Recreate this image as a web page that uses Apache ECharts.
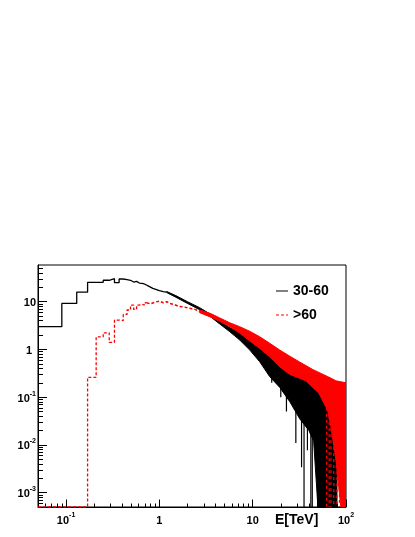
<!DOCTYPE html>
<html><head><meta charset="utf-8">
<script src="https://cdn.jsdelivr.net/npm/echarts@6/dist/echarts.min.js"></script>
<style>html,body{margin:0;padding:0;background:#fff}#c{width:415px;height:537px}</style>
</head><body><div id="c"></div>
<script>
// ---- data ----
const seriesNames = ['30-60', '>60'];
const xTickLabels = [0.1, 1, 10, 100];
const yTickLabels = [0.001, 0.01, 0.1, 1, 10];
// low-energy histogram bin edges (TeV) and contents
const binEdges  = [0.05,0.09,0.13,0.17,0.21,0.25,0.29,0.33,0.37,0.41,0.45,0.49,0.53,0.57,0.61,0.65,0.69,0.73];
const blackBins = [3.0,9.2,15.8,25.5,25.5,28.1,30.3,25.0,29.9,29.0,28.1,25.8,26.7,24.6,24.2,23.5,22.3];
const redBins   = [0,0,0,0.26,1.84,2.23,1.40,4.12,4.0,5.4,6.7,8.5,6.9,8.5,8.9,8.5,9.5];
// mid-energy trace
const blackMidE = [0.73,0.76,0.85,1.0,1.1,1.2];
const blackMidV = [22.3,20.5,19.0,17.0,16.3,15.9];
const redMidE = [0.73,0.8,0.9,1.0,1.1,1.2,1.3,1.45,1.6,1.8,2.1,2.4,2.7];
const redMidV = [9.5,9.0,9.8,10.3,9.5,10.0,9.2,8.7,8.0,7.8,7.3,6.9,6.3];
// high-energy fluctuation envelope (upper / lower)
const blackBandE  = [1.2,1.5,2.0,2.7,3.5,4.4,5.6,7.2,9.3,11.9,15.2,19.5,25,32,40,45,50,75,80];
const blackBandHi = [16.3,13.4,10.0,7.5,5.5,3.95,2.9,2.3,1.84,1.45,1.05,0.70,0.47,0.35,0.25,0.2,0.17,0.12,0.1];
const blackBandLo = [15.5,12.4,9.2,6.8,4.9,3.45,2.4,1.6,0.97,0.55,0.27,0.16,0.08,0.035,0.02,0.012,0,0,0];
const redBandE  = [2.7,3.5,4.4,5.7,7.25,9.3,11.9,15.2,19.5,25,31.6,37.1,44,51.2,63.5,69,78,88,100];
const redBandHi = [6.7,5.7,4.6,3.6,3.0,2.4,1.84,1.35,0.97,0.72,0.55,0.46,0.38,0.33,0.27,0.25,0.22,0.21,0.2];
const redBandLo = [5.9,4.8,3.9,3.0,2.2,1.5,1.05,0.7,0.43,0.3,0.25,0.22,0.16,0.121,0.053,0.024,0.0048,0,0];
// isolated downward spikes
const blackSpikeE   = [16,20,23,29,33.4,35.5,38.6,42,43.5,49.6];
const blackSpikeTop = [0.9,0.6,0.5,0.3,0.25,0.25,0.22,0.2,0.2,0.15];
const blackSpikeBot = [0.2,0.1,0.05,0.011,0.0034,0,0.0077,0,0,0];
const redSpikeE   = [62,66,69,74,80,85];
const redSpikeTop = [0.06,0.04,0.03,0.012,0.005,0.003];
const redSpikeBot = [0,0,0,0,0,0];

// ---- chart ----
const X_MIN = 0.05, X_MAX = 100, Y_MIN = 5e-4, Y_MAX = 58.7;
const floorV = v => (v > 0 ? v : Y_MIN);
const FONT = '"Liberation Sans", Arial, Helvetica, sans-serif';

function minorTicks(lo, hi) {
  const out = [];
  for (let d = -4; d <= 2; d++) {
    const base = Math.pow(10, d);
    for (let k = 2; k <= 9; k++) {
      const v = +(base * k).toPrecision(6);
      if (v > lo && v < hi) out.push(v);
    }
  }
  return out;
}
function fmt(v, isY) {
  const e = Math.round(Math.log10(v));
  if (e === 0) return isY ? '{one|1}' : '{b|1}';
  if (e === 1) return '{b|10}';
  return '{b|10}{sup|' + e + '}';
}
const rich = {
  b: {fontSize: 11, fontWeight: 'bold', fontFamily: FONT, lineHeight: 14, verticalAlign: 'bottom', color: '#000'},
  one: {fontSize: 11, fontWeight: 'bold', fontFamily: FONT, lineHeight: 14, verticalAlign: 'bottom', color: '#000', padding: [0, 4, 0, 0]},
  sup: {fontSize: 7, fontWeight: 'bold', fontFamily: FONT, lineHeight: 8, verticalAlign: 'top', color: '#000'}
};

function stepData(edges, vals) {
  const d = vals.map((v, i) => [edges[i], floorV(v)]);
  d.push([edges[vals.length], floorV(vals[vals.length - 1])]);
  return d;
}
function bandSeries(name, E, hi, lo, color, z) {
  return {
    type: 'custom', name: name, coordinateSystem: 'cartesian2d', clip: true, z: z, silent: true,
    data: E.map((e, i) => [e, floorV(hi[i]), floorV(lo[i])]),
    encode: {x: 0, y: [1, 2]},
    renderItem: function (params, api) {
      if (params.dataIndex !== 0) return null;
      const pts = [];
      for (let i = 0; i < E.length; i++) pts.push(api.coord([E[i], floorV(hi[i])]));
      for (let i = E.length - 1; i >= 0; i--) pts.push(api.coord([E[i], floorV(lo[i])]));
      return {type: 'polygon', shape: {points: pts}, style: {fill: color, stroke: color, lineWidth: 1}};
    }
  };
}
function spikeSeries(name, E, top, bot, color, dash, z) {
  return {
    type: 'custom', name: name, coordinateSystem: 'cartesian2d', clip: true, z: z, silent: true,
    data: E.map((e, i) => [e, floorV(top[i]), floorV(bot[i])]),
    encode: {x: 0, y: [1, 2]},
    renderItem: function (params, api) {
      const p1 = api.coord([api.value(0), api.value(1)]);
      const p2 = api.coord([api.value(0), api.value(2)]);
      return {type: 'line', shape: {x1: p1[0], y1: p1[1], x2: p2[0], y2: p2[1]},
              style: {stroke: color, lineWidth: 1.2, lineDash: dash}};
    }
  };
}

const axisBase = {
  type: 'log', logBase: 10, splitLine: {show: false}, minorTick: {show: false}
};

const option = {
  animation: false,
  backgroundColor: '#fff',
  grid: {left: 38, top: 265, width: 308, height: 242, show: true, borderColor: '#000', borderWidth: 1, backgroundColor: 'transparent'},
  title: {text: 'E[TeV]', left: 275, top: 513, textStyle: {fontSize: 14, fontWeight: 'bold', fontFamily: FONT, color: '#000'}, padding: 0},
  legend: {
    data: [
      {name: seriesNames[0], icon: 'path://M0,0h12v1h-12z'},
      {name: seriesNames[1], icon: 'path://M0,0h3v1h-3zM5,0h3v1h-3zM10,0h2v1h-2z'}
    ],
    orient: 'vertical', left: 271, top: 279, itemWidth: 12, itemHeight: 1.3, itemGap: 10,
    textStyle: {fontSize: 14, fontWeight: 'bold', fontFamily: FONT, color: '#000'},
    selectedMode: false
  },
  xAxis: [
    Object.assign({}, axisBase, {
      min: X_MIN, max: X_MAX, position: 'bottom',
      axisLine: {show: true, lineStyle: {color: '#000', width: 1}},
      axisTick: {show: true, inside: true, length: 7.5, customValues: xTickLabels, lineStyle: {color: '#000'}},
      axisLabel: {show: true, customValues: xTickLabels, margin: 5, formatter: v => fmt(v, false), rich: rich, color: '#000'}
    }),
    Object.assign({}, axisBase, {
      min: X_MIN, max: X_MAX, position: 'bottom',
      axisLine: {show: false},
      axisTick: {show: true, inside: true, length: 3.5, customValues: minorTicks(X_MIN, X_MAX), lineStyle: {color: '#000'}},
      axisLabel: {show: false}
    })
  ],
  yAxis: [
    Object.assign({}, axisBase, {
      min: Y_MIN, max: Y_MAX, position: 'left',
      axisLine: {show: true, lineStyle: {color: '#000', width: 1}},
      axisTick: {show: true, inside: true, length: 9, customValues: yTickLabels, lineStyle: {color: '#000'}},
      axisLabel: {show: true, customValues: yTickLabels, margin: 2, formatter: v => fmt(v, true), rich: rich, color: '#000'}
    }),
    Object.assign({}, axisBase, {
      min: Y_MIN, max: Y_MAX, position: 'left',
      axisLine: {show: false},
      axisTick: {show: true, inside: true, length: 5, customValues: minorTicks(Y_MIN, Y_MAX), lineStyle: {color: '#000'}},
      axisLabel: {show: false}
    })
  ],
  series: [
    {type: 'line', name: seriesNames[0], step: 'end', data: stepData(binEdges, blackBins), symbol: 'none', clip: true, z: 2,
     lineStyle: {color: '#000', width: 1.3}, itemStyle: {color: '#000'}},
    {type: 'line', name: 'mid0', data: blackMidE.map((e, i) => [e, blackMidV[i]]), symbol: 'none', clip: true, z: 2,
     lineStyle: {color: '#000', width: 1.3}},
    bandSeries('band0', blackBandE, blackBandHi, blackBandLo, '#000', 2),
    spikeSeries('spikes0', blackSpikeE, blackSpikeTop, blackSpikeBot, '#000', null, 2),
    {type: 'line', name: seriesNames[1], step: 'end', data: stepData(binEdges, redBins), symbol: 'none', clip: true, z: 3,
     lineStyle: {color: '#ff0000', width: 1.3, type: [3, 2]}, itemStyle: {color: '#ff0000'}},
    {type: 'line', name: 'mid1', data: redMidE.map((e, i) => [e, redMidV[i]]), symbol: 'none', clip: true, z: 3,
     lineStyle: {color: '#ff0000', width: 1.5, type: [3, 2]}},
    bandSeries('band1', redBandE, redBandHi, redBandLo, '#ff0000', 3),
    spikeSeries('spikes1', redSpikeE, redSpikeTop, redSpikeBot, '#ff0000', [3, 3], 3)
  ]
};
const chart = echarts.init(document.getElementById('c'), null, {renderer: 'canvas'});
chart.setOption(option);
</script>
</body></html>
